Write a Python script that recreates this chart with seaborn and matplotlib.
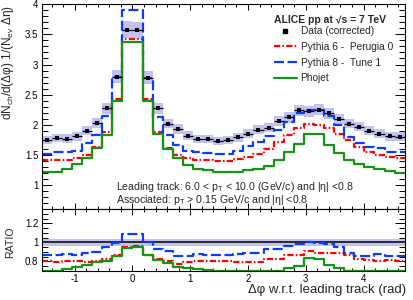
import numpy as np
import pandas as pd
import matplotlib
matplotlib.use("Agg")
import matplotlib.pyplot as plt
import seaborn as sns
from matplotlib.lines import Line2D
from matplotlib.ticker import MultipleLocator, FuncFormatter

# binning in delta phi: 36 bins from -pi/2 to 3pi/2
n_bins = 36
phi_range = (-np.pi / 2, 3 * np.pi / 2)
edges = np.linspace(phi_range[0], phi_range[1], n_bins + 1)
centers = 0.5 * (edges[:-1] + edges[1:])
half_w = 0.5 * (edges[1] - edges[0])

data = [1.75, 1.78, 1.77, 1.81, 1.90, 2.03, 2.27, 2.80, 3.58, 3.57, 2.78, 2.27,
        2.02, 1.93, 1.82, 1.76, 1.76, 1.73, 1.75, 1.79, 1.85, 1.92, 1.95, 2.06,
        2.12, 2.24, 2.22, 2.25, 2.19, 2.09, 2.02, 1.97, 1.90, 1.85, 1.81, 1.80]
pythia6 = [1.41, 1.41, 1.42, 1.45, 1.50, 1.63, 1.88, 2.42, 3.42, 3.42, 2.42, 1.88,
           1.62, 1.50, 1.45, 1.42, 1.41, 1.40, 1.40, 1.43, 1.46, 1.52, 1.60, 1.71,
           1.83, 1.94, 2.01, 1.99, 1.94, 1.85, 1.75, 1.63, 1.55, 1.49, 1.47, 1.44]
pythia8 = [1.51, 1.55, 1.55, 1.57, 1.69, 1.83, 2.15, 2.79, 3.90, 3.90, 2.78, 2.12,
           1.83, 1.66, 1.56, 1.55, 1.53, 1.51, 1.51, 1.57, 1.64, 1.71, 1.82, 1.92,
           2.04, 2.20, 2.24, 2.24, 2.15, 1.99, 1.80, 1.69, 1.63, 1.62, 1.55, 1.54]
phojet = [1.21, 1.21, 1.27, 1.35, 1.44, 1.61, 1.83, 2.39, 3.38, 3.38, 2.40, 1.85,
          1.59, 1.44, 1.33, 1.27, 1.25, 1.21, 1.21, 1.22, 1.24, 1.27, 1.32, 1.42,
          1.54, 1.68, 1.85, 1.85, 1.67, 1.53, 1.42, 1.35, 1.30, 1.26, 1.23, 1.20]
sys_rel = 0.04

labels = ["Data (corrected)", "Pythia 6 -  Perugia 0", "Pythia 8 -  Tune 1", "Phojet"]

c_red = "#ff0000"
c_blue = "#0a3cff"
c_green = "#149614"
c_band = "#c2c2f2"
ls_red = (0, (2.8, 1.0, 0.7, 1.0))
ls_blue = (0, (4.5, 1.6))

sns.set_style("ticks")
plt.rcParams["font.family"] = ["Liberation Sans", "DejaVu Sans"]
plt.rcParams["mathtext.fontset"] = "custom"
plt.rcParams["mathtext.rm"] = "Liberation Sans"
plt.rcParams["mathtext.it"] = "Liberation Sans:italic"

fig = plt.figure(figsize=(4.14, 3.0), dpi=100)
ax1 = fig.add_axes([0.1007, 0.3033, 0.8768, 0.6824])
ax2 = fig.add_axes([0.1007, 0.0967, 0.8768, 0.2066])

data = np.array(data)
sys = data * sys_rel


def step(ax, vals, color, ls):
    df = pd.DataFrame({"phi": centers, "w": np.asarray(vals, dtype=float)})
    sns.histplot(data=df, x="phi", weights="w", bins=n_bins, binrange=phi_range,
                 element="step", fill=False, color=color, linestyle=ls,
                 linewidth=1.6, ax=ax)


# top panel
ax1.bar(centers, 2 * sys, bottom=data - sys, width=2 * half_w, color=c_band,
        linewidth=0, zorder=1)
step(ax1, pythia6, c_red, ls_red)
step(ax1, pythia8, c_blue, ls_blue)
step(ax1, phojet, c_green, "-")
ax1.errorbar(centers, data, xerr=half_w, fmt="none", ecolor="k", elinewidth=0.9, zorder=4)
sns.scatterplot(x=centers, y=data, marker="s", color="k", s=12, linewidth=0, ax=ax1, zorder=5)

ax1.set_xlim(*phi_range)
ax1.set_ylim(0.6, 4.0)
ax1.set_xlabel("")
ax1.set_ylabel("")

handles = [Line2D([], [], marker="s", color="k", ls="none", markersize=3),
           Line2D([], [], color=c_red, ls=ls_red, lw=1.6),
           Line2D([], [], color=c_blue, ls=ls_blue, lw=1.6),
           Line2D([], [], color=c_green, lw=1.6)]
ax1.legend(handles, labels, loc="upper left", bbox_to_anchor=(0.639, 0.892),
           frameon=False, fontsize=7.3, handlelength=2.3, handletextpad=0.35,
           labelspacing=0.55, borderpad=0, borderaxespad=0)
ax1.text(0.639, 0.923, "ALICE pp at \u221as = 7 TeV", transform=ax1.transAxes,
         fontsize=7.5, fontweight="bold", ha="left", va="center")
ax1.text(0.2045, 0.107, "Leading track: 6.0 < p$_{\\rm T}$ < 10.0 (GeV/c) and |\u03b7| <0.8",
         transform=ax1.transAxes, fontsize=7.6, ha="left", va="center")
ax1.text(0.2045, 0.044, "Associated: p$_{\\rm T}$ > 0.15 GeV/c and |\u03b7| <0.8",
         transform=ax1.transAxes, fontsize=7.6, ha="left", va="center")

# ratio panel
lo = 0.7
ax2.axhspan(1 - sys_rel, 1 + sys_rel, color=c_band, linewidth=0, zorder=1)
ax2.axhline(1, color="k", lw=1.1, zorder=2)
for vals, col, ls in [(pythia6, c_red, ls_red), (pythia8, c_blue, ls_blue), (phojet, c_green, "-")]:
    ratio = np.maximum(np.array(vals) / data, lo + 0.004)
    step(ax2, ratio, col, ls)
ax2.set_xlim(*phi_range)
ax2.set_ylim(lo, 1.35)
ax2.set_xlabel("")
ax2.set_ylabel("")

fmt = FuncFormatter(lambda v, p: "%g" % round(v, 3))
for ax in (ax1, ax2):
    ax.xaxis.set_major_locator(MultipleLocator(1))
    ax.xaxis.set_minor_locator(MultipleLocator(0.2))
    ax.xaxis.set_major_formatter(fmt)
    ax.yaxis.set_major_formatter(fmt)
    ax.tick_params(which="both", direction="in", top=True, right=True,
                   labelsize=7, width=0.7, colors="k", pad=2.5)
    ax.tick_params(axis="y", which="major", length=7)
    ax.tick_params(axis="y", which="minor", length=4)
    ax.tick_params(axis="x", which="major", length=4.5)
    ax.tick_params(axis="x", which="minor", length=2.5)
    for s in ax.spines.values():
        s.set_linewidth(0.8)
        s.set_color("k")
ax1.yaxis.set_major_locator(MultipleLocator(0.5))
ax1.yaxis.set_minor_locator(MultipleLocator(0.1))
ax1.tick_params(labelbottom=False)
ax2.yaxis.set_major_locator(MultipleLocator(0.2))
ax2.yaxis.set_minor_locator(MultipleLocator(0.05))

fig.text(8 / 414, 1 - 5 / 300, "dN$_{\\rm ch}$/d(\u0394\u03c6) 1/(N$_{\\rm ev}$ \u0394\u03b7)",
         rotation=90, ha="center", va="top", fontsize=8.5)
fig.text(10 / 414, 1 - 242 / 300, "RATIO", rotation=90, ha="center", va="center", fontsize=7.6)
fig.text(406 / 414, 1 - 290 / 300, "\u0394\u03c6 w.r.t. leading track (rad)",
         ha="right", va="center", fontsize=9.5)

fig.savefig("out.png", dpi=100)
